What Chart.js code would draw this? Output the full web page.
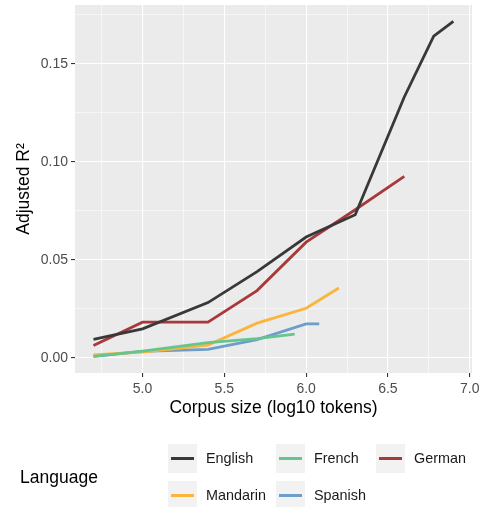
<!DOCTYPE html>
<html>
<head>
<meta charset="utf-8">
<script src="https://cdn.jsdelivr.net/npm/chart.js@4"></script>
<style>
  body { margin: 0; background: #fff; }
  #wrap { position: relative; width: 484px; height: 507px; font-family: "Liberation Sans", Arial, sans-serif; }
  #legend { position: absolute; left: 0; top: 0; width: 484px; height: 507px; pointer-events: none; }
  .ltitle { position: absolute; left: 20px; top: 466px; font-size: 17.5px; line-height: 22px; color: #000; }
  .lkey { position: absolute; width: 29px; height: 29px; background: #f2f2f2; }
  .lkey span { position: absolute; left: 3px; right: 3px; top: 13px; height: 3px; }
  .ltext { position: absolute; font-size: 14.4px; line-height: 18px; color: #1a1a1a; }
</style>
</head>
<body>
<div id="wrap">
  <canvas id="chart" width="484" height="507"></canvas>
  <div id="legend"><div class="ltitle">Language</div></div>
</div>
<script>
// Values
const languages = ['English', 'French', 'German', 'Mandarin', 'Spanish'];
const colors = ['#383838', '#66c48f', '#a8393b', '#fbb53b', '#6d9ec9'];

const englishX = [4.7, 5.0, 5.4, 5.7, 6.0, 6.3, 6.6, 6.78, 6.9];
const englishY = [0.0095, 0.0148, 0.0282, 0.044, 0.0616, 0.073, 0.133, 0.164, 0.1716];
const frenchX = [4.7, 5.0, 5.4, 5.7, 5.93];
const frenchY = [0.0008, 0.0035, 0.0078, 0.0098, 0.0121];
const germanX = [4.7, 5.0, 5.4, 5.7, 6.0, 6.3, 6.6];
const germanY = [0.0063, 0.0182, 0.0182, 0.0343, 0.059, 0.0755, 0.0925];
const mandarinX = [4.7, 5.0, 5.4, 5.7, 6.0, 6.2];
const mandarinY = [0.0015, 0.003, 0.0065, 0.0177, 0.0253, 0.0356];
const spanishX = [4.7, 5.0, 5.4, 5.7, 6.0, 6.08];
const spanishY = [0.0008, 0.0033, 0.0043, 0.0093, 0.0173, 0.0173];

const xTicks = [4.75, 5.0, 5.25, 5.5, 5.75, 6.0, 6.25, 6.5, 6.75, 7.0];
const xMajor = [5.0, 5.5, 6.0, 6.5, 7.0];
const yTicks = [0, 0.025, 0.05, 0.075, 0.1, 0.125, 0.15, 0.175];
const yMajor = [0, 0.05, 0.1, 0.15];

const seriesX = [englishX, frenchX, germanX, mandarinX, spanishX];
const seriesY = [englishY, frenchY, germanY, mandarinY, spanishY];

const isMajor = (list, v) => list.some(m => Math.abs(m - v) < 1e-9);

const panelBg = {
    id: 'panelBg',
    beforeDraw(chart) {
        const { ctx, chartArea: a } = chart;
        ctx.save();
        ctx.fillStyle = '#ebebeb';
        ctx.fillRect(a.left, a.top, a.right - a.left, a.bottom - a.top);
        ctx.restore();
    }
};

// drop the extra room Chart.js keeps for half-labels at the axis ends
function noEndPadding(s) {
    s.paddingTop = 0;
    s.paddingBottom = 0;
    s.paddingLeft = 0;
    s.paddingRight = 0;
}

const ctx = document.getElementById('chart').getContext('2d');
const chart = new Chart(ctx, {
    type: 'line',
    data: {
        datasets: languages.map((name, i) => ({
            label: name,
            data: seriesX[i].map((x, j) => ({ x: x, y: seriesY[i][j] })),
            borderColor: colors[i],
            borderWidth: 2.8,
            pointRadius: 0,
            fill: false,
            tension: 0
        }))
    },
    options: {
        responsive: false,
        animation: false,
        layout: { padding: { top: 5, right: 12, bottom: 87, left: 0 } },
        plugins: { legend: { display: false }, tooltip: { enabled: false } },
        scales: {
            x: {
                type: 'linear',
                min: 4.587,
                max: 7.014,
                afterBuildTicks: s => { s.ticks = xTicks.map(v => ({ value: v })); },
                afterFit: s => { s.height = 47; noEndPadding(s); },
                border: { display: false },
                grid: {
                    color: '#ffffff',
                    lineWidth: c => isMajor(xMajor, c.tick.value) ? 1.1 : 0.55,
                    tickColor: c => isMajor(xMajor, c.tick.value) ? '#333333' : 'rgba(0,0,0,0)',
                    tickLength: 4,
                    tickWidth: 1.1
                },
                ticks: {
                    autoSkip: false,
                    maxRotation: 0,
                    padding: 4,
                    color: '#4d4d4d',
                    font: { family: 'Liberation Sans', size: 14 },
                    callback: v => isMajor(xMajor, v) ? v.toFixed(1) : ''
                },
                title: {
                    display: true,
                    text: 'Corpus size (log10 tokens)',
                    color: '#000',
                    font: { family: 'Liberation Sans', size: 17.5 },
                    padding: { top: 0, bottom: 1 }
                }
            },
            y: {
                type: 'linear',
                min: -0.0077,
                max: 0.1799,
                afterBuildTicks: s => { s.ticks = yTicks.map(v => ({ value: v })); },
                afterFit: s => { s.width = 75; noEndPadding(s); },
                border: { display: false },
                grid: {
                    color: '#ffffff',
                    lineWidth: c => isMajor(yMajor, c.tick.value) ? 1.1 : 0.55,
                    tickColor: c => isMajor(yMajor, c.tick.value) ? '#333333' : 'rgba(0,0,0,0)',
                    tickLength: 4,
                    tickWidth: 1.1
                },
                ticks: {
                    autoSkip: false,
                    padding: 3,
                    color: '#4d4d4d',
                    font: { family: 'Liberation Sans', size: 14 },
                    callback: v => isMajor(yMajor, v) ? v.toFixed(2) : ''
                },
                title: {
                    display: true,
                    text: 'Adjusted R²',
                    color: '#000',
                    font: { family: 'Liberation Sans', size: 17.5 },
                    padding: { top: 14, bottom: 0 }
                }
            }
        }
    },
    plugins: [panelBg]
});

// ggplot-style legend: title on the left, keys filled by row
const legend = document.getElementById('legend');
const colX = [168, 276, 376];
const rowY = [444, 481];
chart.data.datasets.forEach((ds, i) => {
    const left = colX[i % 3];
    const top = rowY[Math.floor(i / 3)];
    const key = document.createElement('div');
    key.className = 'lkey';
    key.style.left = left + 'px';
    key.style.top = top + 'px';
    const line = document.createElement('span');
    line.style.background = ds.borderColor;
    key.appendChild(line);
    legend.appendChild(key);
    const text = document.createElement('div');
    text.className = 'ltext';
    text.style.left = (left + 38) + 'px';
    text.style.top = (top + 5) + 'px';
    text.textContent = ds.label;
    legend.appendChild(text);
});
</script>
</body>
</html>
